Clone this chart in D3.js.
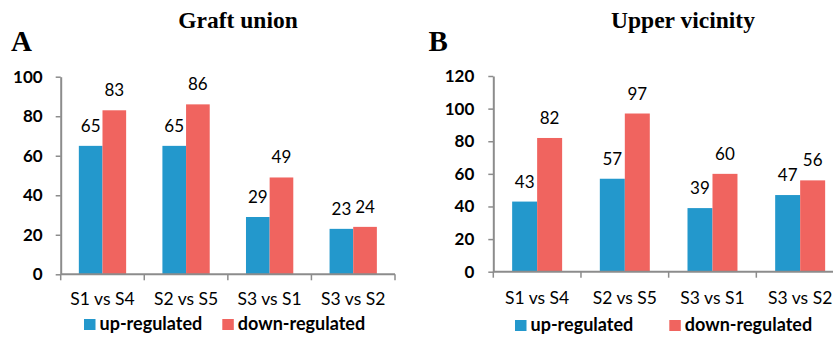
<!DOCTYPE html>
<html>
<head>
<meta charset="utf-8">
<script src="https://cdn.jsdelivr.net/npm/d3@7"></script>
<style>
  html, body { margin: 0; padding: 0; background: #fff; }
  svg { display: block; }
</style>
</head>
<body>
<svg id="chart" width="833" height="338"></svg>
<script>
const categories = ["S1 vs S4", "S2 vs S5", "S3 vs S1", "S3 vs S2"];
const seriesNames = ["up-regulated", "down-regulated"];
const graftUp = [65, 65, 29, 23];
const graftDown = [83, 86, 49, 24];
const upperUp = [43, 57, 39, 47];
const upperDown = [82, 97, 60, 56];
const graftTicks = [0, 20, 40, 60, 80, 100];
const upperTicks = [0, 20, 40, 60, 80, 100, 120];
const colors = ["#2398cc", "#f0645f"];

const svg = d3.select("#chart");
const sansFont = "Lato, 'Open Sans', sans-serif";
const serifFont = "'Liberation Serif', 'Times New Roman', serif";

function drawPanel(o) {
  const g = svg.append("g");
  const x0 = d3.scaleBand().domain(categories).range([o.left, o.right]).padding(0);
  const gap = x0.bandwidth() * o.gapFrac;
  const x1 = d3.scaleBand().domain(seriesNames).range([gap, x0.bandwidth() - gap]).padding(0);
  const y = d3.scaleLinear().domain([0, o.yMax]).range([o.bottom, o.top]);
  const axisColor = "#8c8c8c";

  // title and panel letter
  g.append("text").attr("x", o.titleX).attr("y", 28).attr("text-anchor", "middle")
    .attr("font-family", serifFont).attr("font-weight", "bold").attr("font-size", 23.5)
    .attr("fill", "#000").text(o.title);
  g.append("text").attr("x", o.letterX).attr("y", 51)
    .attr("font-family", serifFont).attr("font-weight", "bold").attr("font-size", 29)
    .attr("fill", "#000").text(o.letter);

  // bars
  const rows = categories.map((c, i) => ({ c, vals: [o.up[i], o.down[i]] }));
  const grp = g.selectAll("g.cat").data(rows).join("g")
    .attr("transform", d => `translate(${x0(d.c)},0)`);
  grp.selectAll("rect").data(d => d.vals.map((v, k) => ({ v, s: seriesNames[k], k })))
    .join("rect")
    .attr("x", d => x1(d.s)).attr("width", x1.bandwidth())
    .attr("y", d => y(d.v)).attr("height", d => y(0) - y(d.v))
    .attr("fill", d => colors[d.k]);
  grp.selectAll("text").data(d => d.vals.map((v, k) => ({ v, s: seriesNames[k], k })))
    .join("text")
    .attr("x", d => x1(d.s) + x1.bandwidth() / 2).attr("y", d => y(d.v) - 14)
    .attr("text-anchor", "middle").attr("font-family", sansFont).attr("font-size", 17)
    .attr("fill", "#000").text(d => d.v);

  // y axis
  const yAxis = d3.axisLeft(y).tickValues(o.ticks).tickSize(5).tickPadding(o.tickPad).tickSizeOuter(0);
  const ya = g.append("g").attr("transform", `translate(${o.left},0)`).call(yAxis);
  ya.select(".domain").attr("stroke", axisColor).attr("stroke-width", 2);
  ya.selectAll(".tick line").attr("stroke", axisColor).attr("stroke-width", 1.5);
  ya.selectAll(".tick text").attr("font-family", sansFont).attr("font-weight", "bold")
    .attr("font-size", 17).attr("fill", "#000");

  // x axis
  g.append("line").attr("x1", o.left).attr("x2", o.right).attr("y1", y(0)).attr("y2", y(0))
    .attr("stroke", axisColor).attr("stroke-width", 2);
  const bounds = categories.map(c => x0(c)).concat([o.right]);
  g.selectAll("line.xt").data(bounds).join("line").attr("class", "xt")
    .attr("x1", d => d).attr("x2", d => d).attr("y1", y(0)).attr("y2", y(0) + 6)
    .attr("stroke", axisColor).attr("stroke-width", 1.5);
  g.selectAll("text.cat").data(categories).join("text").attr("class", "cat")
    .attr("x", d => x0(d) + x0.bandwidth() / 2).attr("y", o.catY)
    .attr("text-anchor", "middle").attr("font-family", sansFont).attr("font-size", 17.5)
    .attr("fill", "#000").text(d => d);

  // legend
  seriesNames.forEach((s, k) => {
    g.append("rect").attr("x", o.legX[k]).attr("y", o.legY - 11).attr("width", 11.5).attr("height", 11)
      .attr("fill", colors[k]);
    g.append("text").attr("x", o.legX[k] + 15.5).attr("y", o.legY)
      .attr("font-family", sansFont).attr("font-weight", "bold").attr("font-size", 18)
      .attr("fill", "#000").text(s);
  });
}

drawPanel({
  title: "Graft union", titleX: 238, letter: "A", letterX: 11,
  up: graftUp, down: graftDown, ticks: graftTicks, yMax: 100,
  left: 60.7, right: 395, top: 76.7, bottom: 274.3, gapFrac: 0.217, tickPad: 13,
  catY: 305, legX: [84, 222.3], legY: 330
});
drawPanel({
  title: "Upper vicinity", titleX: 683, letter: "B", letterX: 428.5,
  up: upperUp, down: upperDown, ticks: upperTicks, yMax: 120,
  left: 493.3, right: 844, top: 76, bottom: 271.7, gapFrac: 0.215, tickPad: 14,
  catY: 303.5, legX: [515, 669.3], legY: 331
});
</script>
</body>
</html>
